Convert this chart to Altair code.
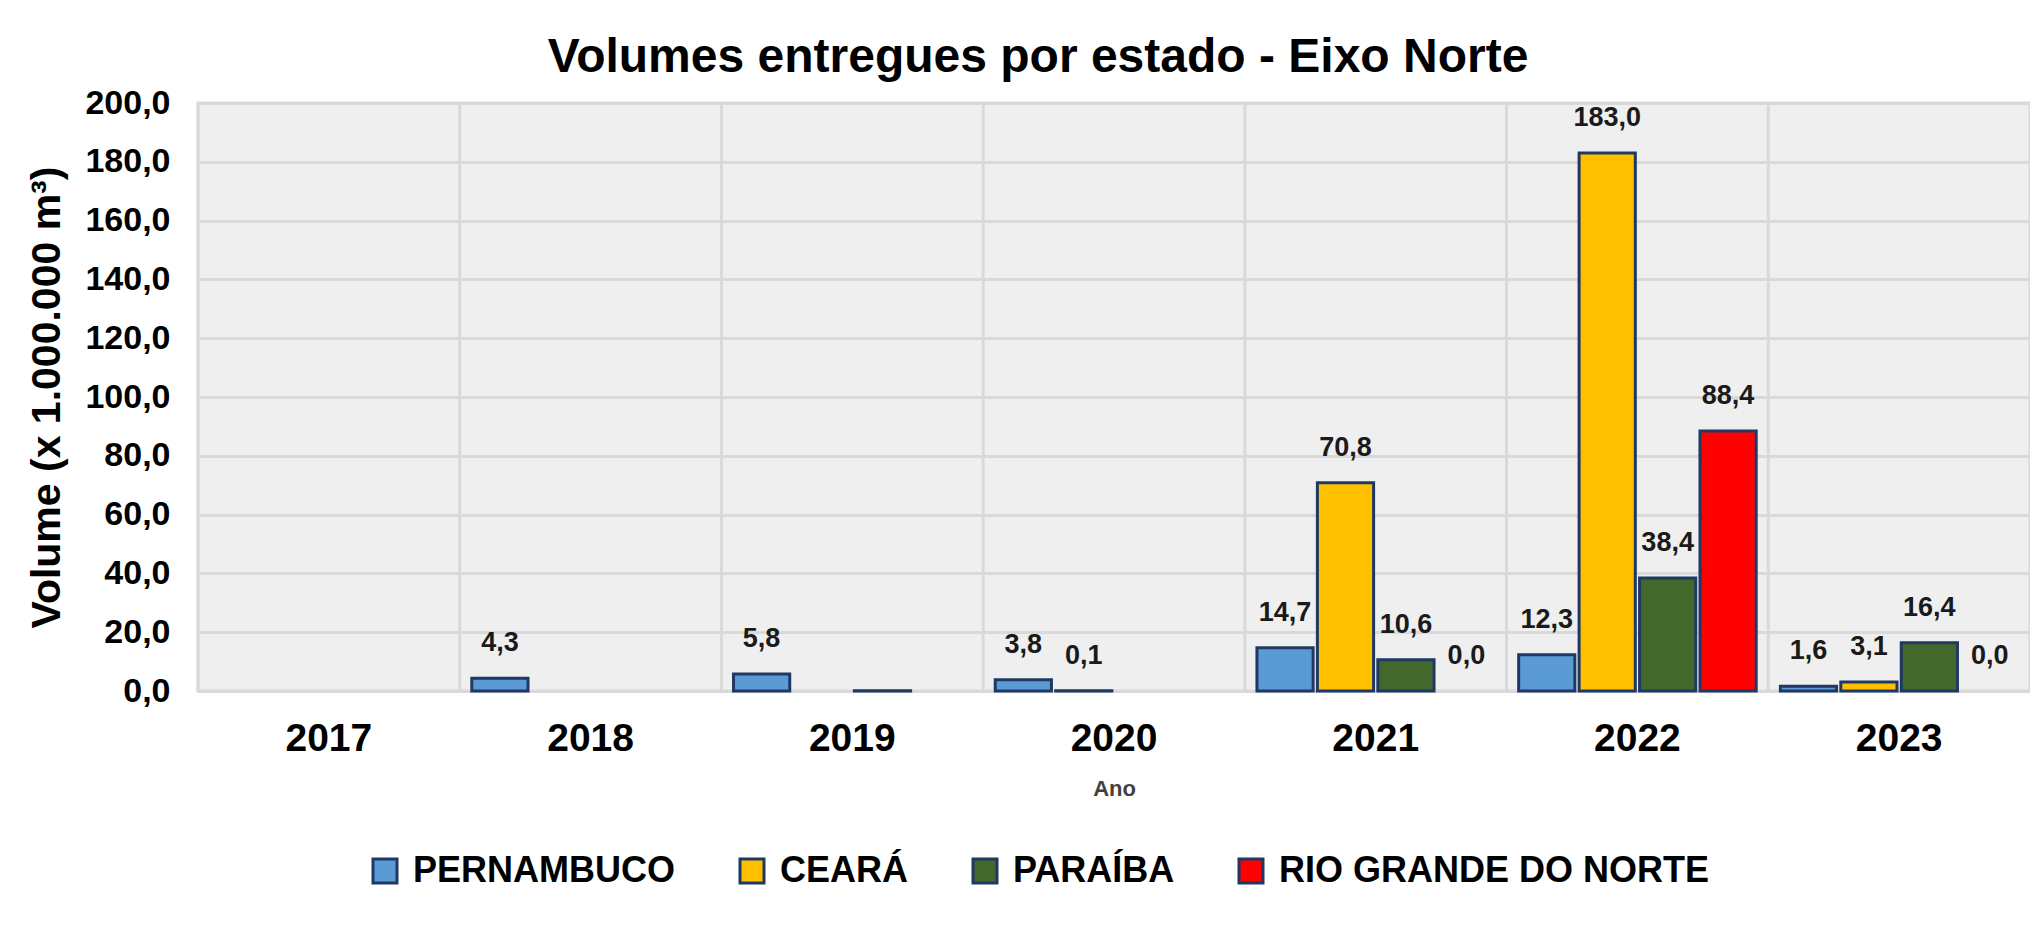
import altair as alt
import pandas as pd

years = ["2017", "2018", "2019", "2020", "2021", "2022", "2023"]
states = ["PERNAMBUCO", "CEARÁ", "PARAÍBA", "RIO GRANDE DO NORTE"]
colors = ["#5b9bd5", "#ffc000", "#43682b", "#ff0000"]

pernambuco = [None, 4.3, 5.8, 3.8, 14.7, 12.3, 1.6]
ceara = [None, None, None, 0.1, 70.8, 183.0, 3.1]
paraiba = [None, None, 0.1, None, 10.6, 38.4, 16.4]
rio_grande = [None, None, None, None, 0.0, 88.4, 0.0]
unlabeled = [("PARAÍBA", "2019")]

y_ticks = [0, 20, 40, 60, 80, 100, 120, 140, 160, 180, 200]

rows = []
for state, series in zip(states, [pernambuco, ceara, paraiba, rio_grande]):
    for yr, v in zip(years, series):
        if v is None:
            continue
        rows.append({
            "year": yr,
            "state": state,
            "value": v,
            "label": f"{v:.1f}".replace(".", ","),
            "show": (state, yr) not in unlabeled,
        })
df = pd.DataFrame(rows)

FONT = "Liberation Sans"
W, H = 1832, 588

x_scale = alt.Scale(domain=years, paddingInner=0, paddingOuter=0)
xoff_scale = alt.Scale(domain=states, paddingInner=0.07, paddingOuter=0.2)
y_scale = alt.Scale(domain=[0, 200], nice=False)

x_axis = alt.Axis(
    labelAngle=0,
    labelFont=FONT,
    labelFontSize=39,
    labelFontWeight="bold",
    labelColor="#000000",
    labelPadding=28,
    ticks=False,
    domain=False,
    grid=False,
    title="Ano",
    titleFont=FONT,
    titleFontSize=22,
    titleFontWeight="bold",
    titleColor="#404040",
    titlePadding=20,
)

y_axis = alt.Axis(
    values=y_ticks,
    labelExpr="replace(format(datum.value, '.1f'), '.', ',')",
    labelFont=FONT,
    labelFontSize=34,
    labelFontWeight="bold",
    labelColor="#000000",
    labelPadding=28,
    ticks=False,
    domain=False,
    gridColor="#d9d9d9",
    gridWidth=3,
    title="Volume (x 1.000.000 m³)",
    titleFont=FONT,
    titleFontSize=41,
    titleFontWeight="bold",
    titleColor="#000000",
    titlePadding=16,
)

vgrid = alt.Chart(pd.DataFrame({"year": years})).mark_rule(
    color="#d9d9d9", strokeWidth=3
).encode(
    x=alt.X("year:N", sort=years, bandPosition=0, scale=x_scale, axis=x_axis, title="Ano"),
)

bars = alt.Chart(df).transform_filter("datum.value > 0").mark_bar(
    stroke="#1f3864", strokeWidth=3
).encode(
    x=alt.X("year:N", sort=years, scale=x_scale, axis=x_axis, title="Ano"),
    xOffset=alt.XOffset("state:N", sort=states, scale=xoff_scale),
    y=alt.Y("value:Q", scale=y_scale, axis=y_axis, title="Volume (x 1.000.000 m³)"),
    color=alt.Color(
        "state:N",
        sort=states,
        scale=alt.Scale(domain=states, range=colors),
        legend=alt.Legend(
            title=None,
            orient="none",
            legendX=169,
            legendY=750,
            direction="horizontal",
            symbolType="square",
            symbolSize=576,
            symbolStrokeColor="#1f3864",
            symbolStrokeWidth=3,
            symbolOpacity=1,
            labelFont=FONT,
            labelFontSize=36,
            labelFontWeight="bold",
            labelColor="#000000",
            labelOffset=10,
            columnPadding=58,
            labelLimit=0,
        ),
    ),
)

labels = alt.Chart(df).transform_filter("datum.show").mark_text(
    baseline="alphabetic",
    dy=-27,
    font=FONT,
    fontSize=27,
    fontWeight="bold",
    color="#1a1a1a",
).encode(
    x=alt.X("year:N", sort=years, scale=x_scale, axis=x_axis, title="Ano"),
    xOffset=alt.XOffset("state:N", sort=states, scale=xoff_scale),
    y=alt.Y("value:Q", scale=y_scale, axis=y_axis, title="Volume (x 1.000.000 m³)"),
    text="label:N",
)

chart = alt.layer(vgrid, bars, labels).properties(
    width=W,
    height=H,
    title=alt.TitleParams(
        "Volumes entregues por estado - Eixo Norte",
        font=FONT,
        fontSize=48,
        fontWeight="bold",
        color="#000000",
        anchor="middle",
        dx=-76,
        offset=4,
    ),
    autosize=alt.AutoSizeParams(type="none"),
    padding={"left": 190, "top": 95, "right": 0, "bottom": 207},
).configure_view(
    fill="#efefef", stroke="#d9d9d9", strokeWidth=3
)

chart.save("out.html", embed_options={"renderer": "svg", "actions": False})
